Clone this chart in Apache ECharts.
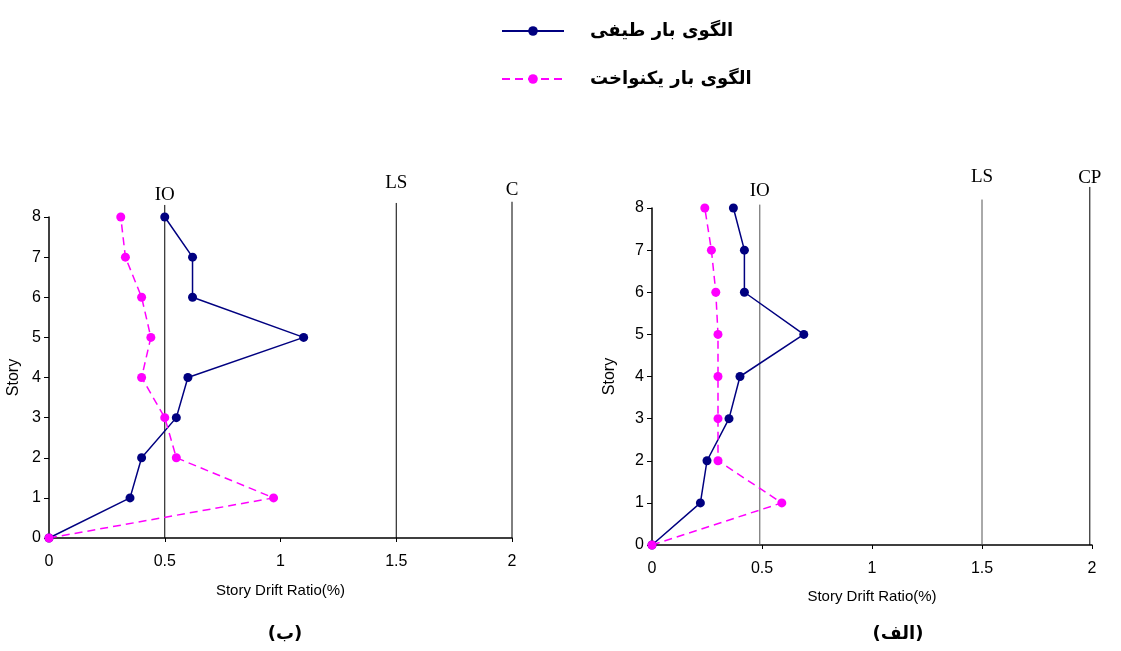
<!DOCTYPE html>
<html>
<head>
<meta charset="utf-8">
<script src="https://cdn.jsdelivr.net/npm/echarts@6/dist/echarts.min.js"></script>
<style>html,body{margin:0;padding:0;background:#fff}#c{width:1121px;height:651px}</style>
</head>
<body>
<div id="c"></div>
<script>
// ---- data ----
const stories = [0, 1, 2, 3, 4, 5, 6, 7, 8];
const xTicks = [0, 0.5, 1, 1.5, 2];
const nameSpectral = 'الگوی بار طیفی';
const nameUniform = 'الگوی بار یکنواخت';
// left panel (ب)
const leftSpectral = [0, 0.35, 0.40, 0.55, 0.60, 1.10, 0.62, 0.62, 0.50];
const leftUniform  = [0, 0.97, 0.55, 0.50, 0.40, 0.44, 0.40, 0.33, 0.31];
// right panel (الف)
const rightSpectral = [0, 0.22, 0.25, 0.35, 0.40, 0.69, 0.42, 0.42, 0.37];
const rightUniform  = [0, 0.59, 0.30, 0.30, 0.30, 0.30, 0.29, 0.27, 0.24];
// performance limit lines: label, drift, top (story units)
const leftLimitNames = ['IO', 'LS', 'C'];
const leftLimitValues = [0.5, 1.5, 2.0];
const leftLimitTops = [8.30, 8.35, 8.38];
const rightLimitNames = ['IO', 'LS', 'CP'];
const rightLimitValues = [0.49, 1.5, 1.99];
const rightLimitTops = [8.08, 8.2, 8.5];
const panelTitles = ['(ب)', '(الف)'];

// label offsets (style only)
const leftLabelDy = [4, -6, 2];
const rightLabelDy = [0, -9, 5];

const chart = echarts.init(document.getElementById('c'), null, {renderer: 'canvas'});
const axisFont = 'Liberation Sans, Arial, sans-serif';

function xAxis(idx, gap) {
  return {
    type: 'value', gridIndex: idx, min: xTicks[0], max: xTicks[xTicks.length - 1], interval: 0.5,
    name: 'Story Drift Ratio(%)', nameLocation: 'middle', nameGap: gap,
    nameTextStyle: {fontFamily: axisFont, fontSize: 15, color: '#000'},
    axisLine: {show: true, onZero: false, lineStyle: {color: '#000', width: 1.5}},
    axisTick: {show: true, length: 4, lineStyle: {color: '#000'}},
    axisLabel: {fontFamily: axisFont, fontSize: 16, color: '#000', margin: 16},
    splitLine: {show: false}
  };
}
function yAxis(idx, gap) {
  return {
    type: 'value', gridIndex: idx, min: stories[0], max: stories[stories.length - 1], interval: 1,
    name: 'Story', nameLocation: 'middle', nameGap: gap, nameRotate: 90,
    nameTextStyle: {fontFamily: axisFont, fontSize: 16, color: '#000'},
    axisLine: {show: true, onZero: false, lineStyle: {color: '#000', width: 1.5}},
    axisTick: {show: true, length: 5, lineStyle: {color: '#000'}},
    axisLabel: {fontFamily: axisFont, fontSize: 16, color: '#000', margin: 8},
    splitLine: {show: false}
  };
}
function dataSeries(idx, name, vals, color, dashed) {
  return {
    type: 'line', name: name, xAxisIndex: idx, yAxisIndex: idx,
    data: stories.map((s, i) => [vals[i], s]),
    symbol: 'circle', symbolSize: 9, showSymbol: true,
    itemStyle: {color: color},
    lineStyle: {color: color, width: 1.5, type: dashed ? [8, 5] : 'solid'},
    z: 5, clip: false
  };
}
function limitSeries(idx, names, vals, tops, colors, dys) {
  return names.map((n, i) => ({
    type: 'line', name: 'limit-' + idx + '-' + n, xAxisIndex: idx, yAxisIndex: idx,
    data: [[vals[i], 0], {value: [vals[i], tops[i]], label: {show: true, position: 'top', distance: 4,
      offset: [0, dys[i]],
      formatter: n, fontFamily: 'Liberation Serif, Times New Roman, serif', fontSize: 19, color: '#000'}}],
    symbol: 'circle', symbolSize: 0.1, showSymbol: true,
    itemStyle: {color: colors[i]},
    lineStyle: {color: colors[i], width: 1},
    z: 2, clip: false, silent: true
  }));
}

const option = {
  animation: false,
  backgroundColor: '#fff',
  grid: [
    {left: 49, right: 609, top: 217, bottom: 113},
    {left: 652, right: 29, top: 208, bottom: 106}
  ],
  xAxis: [xAxis(0, 45), xAxis(1, 44)],
  yAxis: [yAxis(0, 27), yAxis(1, 34)],
  legend: {
    orient: 'vertical', left: 496, top: 17,
    data: [nameSpectral, nameUniform],
    itemWidth: 62, itemHeight: 12, itemGap: 30,
    textStyle: {fontFamily: 'DejaVu Sans, sans-serif', fontWeight: 'bold', fontSize: 18, color: '#000', padding: [0, 0, 0, 21]}
  },
  title: [
    {text: panelTitles[0], left: 280, top: 620, textAlign: 'center',
     textStyle: {fontFamily: 'DejaVu Sans, sans-serif', fontWeight: 'bold', fontSize: 18, color: '#000'}},
    {text: panelTitles[1], left: 893, top: 620, textAlign: 'center',
     textStyle: {fontFamily: 'DejaVu Sans, sans-serif', fontWeight: 'bold', fontSize: 18, color: '#000'}}
  ],
  series: [
    ...limitSeries(0, leftLimitNames, leftLimitValues, leftLimitTops, ['#000', '#000', '#000'], leftLabelDy),
    ...limitSeries(1, rightLimitNames, rightLimitValues, rightLimitTops, ['#555', '#555', '#000'], rightLabelDy),
    dataSeries(0, nameSpectral, leftSpectral, '#000080', false),
    dataSeries(0, nameUniform, leftUniform, '#FF00FF', true),
    dataSeries(1, nameSpectral, rightSpectral, '#000080', false),
    dataSeries(1, nameUniform, rightUniform, '#FF00FF', true)
  ]
};
chart.setOption(option);
</script>
</body>
</html>
